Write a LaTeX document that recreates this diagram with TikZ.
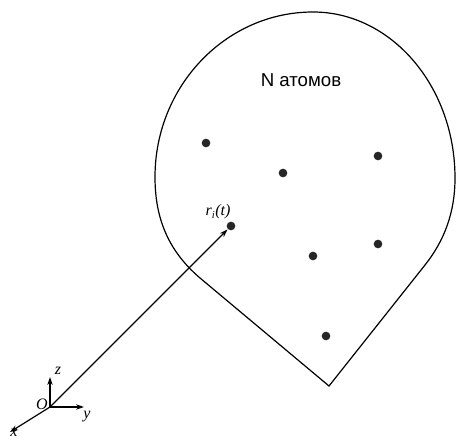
\documentclass[tikz,border=0pt]{standalone}
\usepackage{fontspec}
\setmainfont{Liberation Serif}
\newfontfamily\labelfont{Liberation Sans}
\usetikzlibrary{arrows.meta}

\begin{document}
\begin{tikzpicture}[x=0.75pt, y=-0.75pt, line width=0.9pt]
    \tikzset{
        atom/.style={circle, fill=black!85, inner sep=0pt, minimum size=6.5pt},
        arrow/.style={-{Stealth[length=6pt, width=4pt]}},
        axislabel/.style={font=\itshape\fontsize{12}{13}\selectfont, inner sep=1pt}
    }
    \useasboundingbox (0,0) rectangle (456,441);
    % region with the atoms
    \coordinate (apex) at (329,386);
    \draw (200,278) .. controls (166,249) and (155,215) .. (155,177)
        .. controls (155,86) and (226,12) .. (313,12)
        .. controls (391,12) and (455,86) .. (455,178)
        .. controls (455,213) and (444,241) .. (425,265)
        -- (apex) -- cycle;
    \node[font=\labelfont\fontsize{14}{16}\selectfont] (title) at (301,80) {N атомов};
    % atoms
    \node[atom] (a1) at (206,143) {};
    \node[atom] (a2) at (283,173) {};
    \node[atom] (a3) at (378,156) {};
    \node[atom] (a4) at (313,256) {};
    \node[atom] (a5) at (378,244) {};
    \node[atom] (a6) at (326,336) {};
    \node[atom] (ri) at (231,226) {};
    \node[axislabel] (rilab) at (218,212) {r\textsubscript{i}(t)};
    % axes
    \coordinate (O) at (50,407);
    \coordinate (ztip) at (50,377);
    \coordinate (ytip) at (84,407);
    \coordinate (xtip) at (10,432);
    \draw[arrow] (O) -- (ztip);
    \draw[arrow] (O) -- (ytip);
    \draw[arrow] (O) -- (xtip);
    \draw[arrow] (O) -- (ri);
    \node[axislabel] (zlab) at (58,371) {z};
    \node[axislabel] (ylab) at (87,417) {y};
    \node[axislabel] (xlab) at (14,433) {x};
    \node[axislabel] (Olab) at (42,404) {O};
\end{tikzpicture}
\end{document}
